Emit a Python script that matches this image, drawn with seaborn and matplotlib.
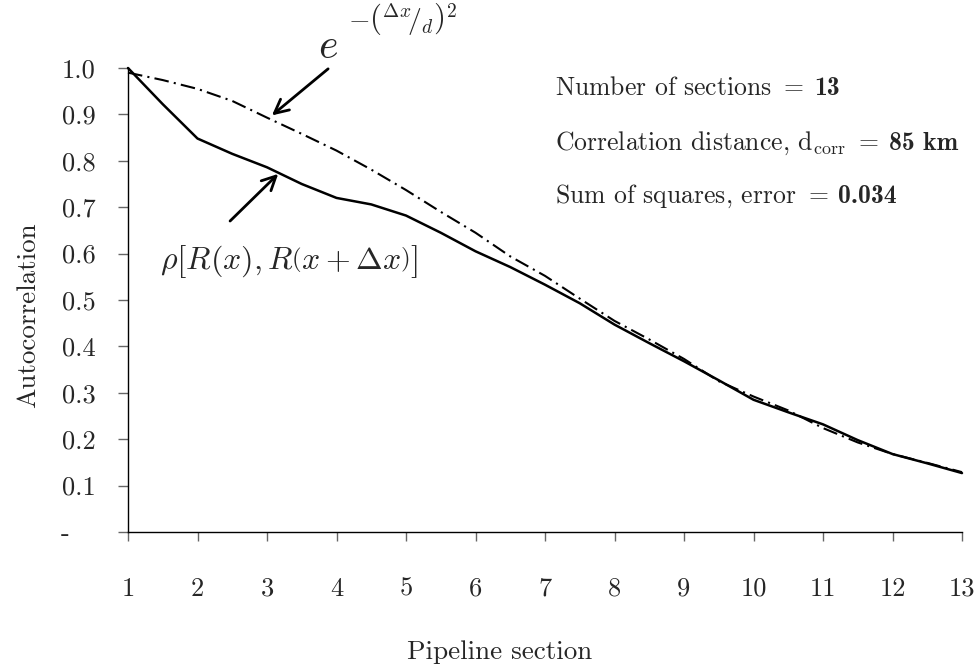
import matplotlib
matplotlib.use("Agg")
import matplotlib.pyplot as plt
from matplotlib.offsetbox import TextArea, HPacker, AnnotationBbox
import seaborn as sns
import pandas as pd

# pipeline sections (read at half-section steps from the reference)
sections = [1, 1.5, 2, 2.5, 3, 3.5, 4, 4.5, 5, 5.5, 6, 6.5, 7,
            7.5, 8, 8.5, 9, 9.5, 10, 10.5, 11, 11.5, 12, 12.5, 13]
measured = [1.0, 0.922, 0.848, 0.815, 0.786, 0.75, 0.72, 0.706, 0.682, 0.645, 0.605, 0.571, 0.533,
            0.493, 0.447, 0.407, 0.368, 0.327, 0.285, 0.258, 0.232, 0.198, 0.168, 0.148, 0.127]
fitted = [0.99, 0.974, 0.955, 0.929, 0.893, 0.858, 0.822, 0.781, 0.737, 0.69, 0.645, 0.594, 0.552,
          0.503, 0.455, 0.415, 0.373, 0.325, 0.292, 0.262, 0.224, 0.193, 0.168, 0.149, 0.129]

x_ticks = list(range(1, 14))
y_ticks = [0, 0.1, 0.2, 0.3, 0.4, 0.5, 0.6, 0.7, 0.8, 0.9, 1.0]
y_tick_labels = ["-   ", "0.1", "0.2", "0.3", "0.4", "0.5", "0.6", "0.7", "0.8", "0.9", "1.0"]

info_text = [("Number of sections $=$", "13"),
             (r"Correlation distance, d$_{\mathrm{corr}}$ $=$", "85 km"),
             ("Sum of squares, error $=$", "0.034")]
info_y = [0.957, 0.838, 0.724]

sns.set_theme(style="white")
plt.rcParams["font.family"] = ["cmr10", "DejaVu Serif"]
plt.rcParams["mathtext.fontset"] = "cm"
plt.rcParams["axes.formatter.use_mathtext"] = True

df = pd.DataFrame({"section": sections, "measured": measured, "fitted": fitted})

fig = plt.figure(figsize=(9.75, 6.71), dpi=100)
ax = fig.add_axes([128 / 975, 139 / 671, 834 / 975, 464 / 671])

sns.lineplot(data=df, x="section", y="fitted", ax=ax, color="black", linewidth=1.5,
             linestyle=(0, (7, 2.5, 1, 2.5)), clip_on=False)
sns.lineplot(data=df, x="section", y="measured", ax=ax, color="black", linewidth=1.8,
             clip_on=False)

ax.set_xlim(1, 13)
ax.set_ylim(0, 1)
ax.set_xticks(x_ticks)
ax.set_xticklabels([str(t) for t in x_ticks])
ax.set_yticks(y_ticks)
ax.set_yticklabels(y_tick_labels)

for s in ["top", "right"]:
    ax.spines[s].set_visible(False)
for s in ["left", "bottom"]:
    ax.spines[s].set_color("black")
    ax.spines[s].set_linewidth(1.0)

ax.tick_params(axis="y", direction="out", length=7.2, width=1, color="0.4",
               pad=16, labelsize=19, left=True)
ax.tick_params(axis="x", direction="out", length=6.5, width=1, color="0.4",
               pad=26, labelsize=19, bottom=True)

ax.set_xlabel("Pipeline section", fontsize=19.5)
ax.set_ylabel("Autocorrelation", fontsize=19.5)
ax.xaxis.set_label_coords(0.446, -0.233)
ax.yaxis.set_label_coords(-0.105, 0.468)

# info block: regular text followed by bold value
for (normal, bold), y in zip(info_text, info_y):
    a = TextArea(normal, textprops=dict(fontsize=18.5, family=["cmr10"]))
    b = TextArea(bold, textprops=dict(fontsize=18.5, family=["cmb10"]))
    box = HPacker(children=[a, b], align="baseline", pad=0, sep=7)
    ax.add_artist(AnnotationBbox(box, (7.14, y), xycoords="data", box_alignment=(0, 0.5),
                                 frameon=False, pad=0, annotation_clip=False))

# arrows and formula labels
ax.annotate("", xy=(3.04, 0.894), xytext=(3.91, 1.002),
            arrowprops=dict(arrowstyle="->", color="black", lw=2, mutation_scale=25),
            annotation_clip=False)
ax.annotate("", xy=(3.19, 0.776), xytext=(2.44, 0.666),
            arrowprops=dict(arrowstyle="->", color="black", lw=2, mutation_scale=25))
ax.text(3.73, 1.022, r"$e$", fontsize=30, va="baseline", ha="left", clip_on=False)
ax.text(4.17, 1.143, r"$-\left({}^{\Delta x}\!/_{d}\right)^{2}$", fontsize=20,
        va="top", ha="left", clip_on=False)
ax.text(1.46, 0.582, r"$\rho\left[R(x), R\left(x+\Delta x\right)\right]$", fontsize=23,
        va="center", ha="left")

fig.savefig("out.png", dpi=100)
